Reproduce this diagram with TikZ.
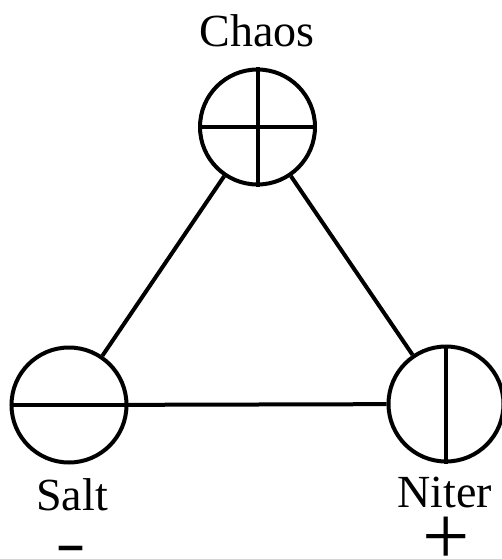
\documentclass[tikz,border=0pt]{standalone}
\usepackage{fontspec}
\setmainfont{Liberation Serif}
\begin{document}
\begin{tikzpicture}[x=1pt,y=-1pt,
  elem/.style={circle,draw,line width=4pt,minimum size=115pt,inner sep=0pt},
  conn/.style={line width=4pt},
  lbl/.style={font=\fontsize{46}{50}\selectfont,inner sep=0pt,anchor=base}]
\useasboundingbox (0,0) rectangle (501,559);
\node[elem] (chaos) at (257.5,127) {};
\node[elem] (salt) at (69,405) {};
\node[elem] (niter) at (446,404) {};
\draw[conn] (chaos.west) -- (chaos.east);
\draw[conn] (chaos.north) -- (chaos.south);
\draw[conn] (salt.west) -- (salt.east);
\draw[conn] (niter.north) -- (niter.south);
\draw[conn] (chaos) -- (salt);
\draw[conn] (chaos) -- (niter);
\draw[conn] (salt) -- (niter);
\node[lbl] (tchaos) at (257,47) {Chaos};
\node[lbl] (tsalt) at (72,510) {Salt};
\node[lbl] (tniter) at (445,507) {Niter};
\node[lbl] (tminus) at (70.5,563.5) {\scalebox{1}[1.4]{\bfseries –}};
\node[font=\fontsize{84}{84}\selectfont,inner sep=0pt] (tplus) at (446,541) {+};
\end{tikzpicture}
\end{document}
